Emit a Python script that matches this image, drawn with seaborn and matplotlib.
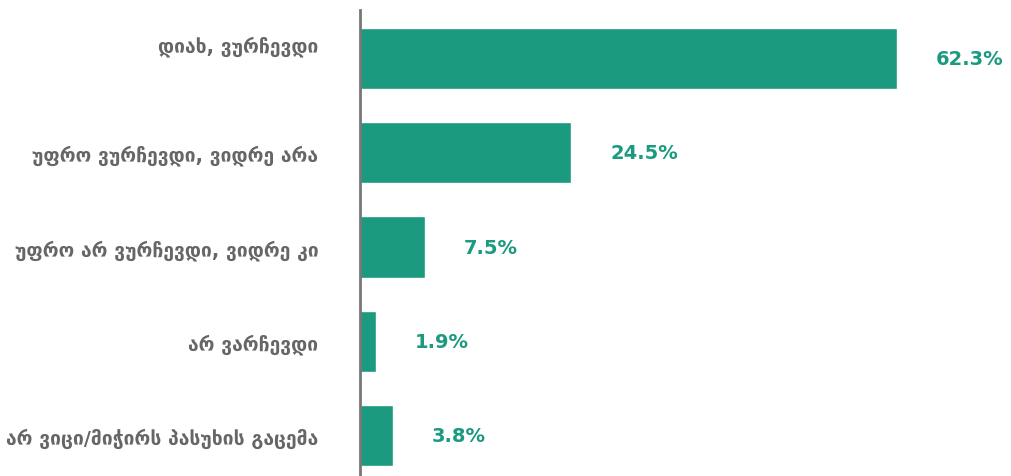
import matplotlib
matplotlib.use("Agg")
import matplotlib.pyplot as plt
import matplotlib.transforms as mtransforms
import seaborn as sns
import pandas as pd

categories = [
    "დიახ, ვურჩევდი",
    "უფრო ვურჩევდი, ვიდრე არა",
    "უფრო არ ვურჩევდი, ვიდრე კი",
    "არ ვარჩევდი",
    "არ ვიცი/მიჭირს პასუხის გაცემა",
]
values = [62.3, 24.5, 7.5, 1.9, 3.8]

BAR = "#1b9a80"
TEXT = "#666666"

sns.set_theme(style="white")
plt.rcParams["font.family"] = ["DejaVu Sans"]

df = pd.DataFrame({"category": categories, "value": values})

fig = plt.figure(figsize=(10.11, 4.77), dpi=100)
ax = fig.add_axes([360 / 1011, 0.0, 1 - 360 / 1011, 1 - 11 / 477])

sns.barplot(data=df, x="value", y="category", color=BAR, saturation=1,
            width=0.65, orient="h", ax=ax)

ax.set_xlim(0, 75.5)
ax.set_ylim(4.43, -0.515)

for i, v in enumerate(values):
    ax.annotate(f"{v}%", xy=(v, i), xytext=(28, 0), textcoords="offset points",
                ha="left", va="center", fontsize=14, fontweight="bold",
                color=BAR)

ax.set_xlabel("")
ax.set_ylabel("")
ax.set_xticks([])
ax.tick_params(axis="y", length=0, pad=30)
for lbl in ax.get_yticklabels():
    lbl.set_fontweight("bold")
    lbl.set_color(TEXT)
    lbl.set_fontsize(13.9)

# the first category label sits a little higher than its bar
first = ax.get_yticklabels()[0]
first.set_transform(first.get_transform() +
                    mtransforms.ScaledTranslation(0, 0.15, fig.dpi_scale_trans))

for side in ["top", "right", "bottom"]:
    ax.spines[side].set_visible(False)
ax.spines["left"].set_color("#777777")
ax.spines["left"].set_linewidth(2)

fig.savefig("out.png", dpi=100)
